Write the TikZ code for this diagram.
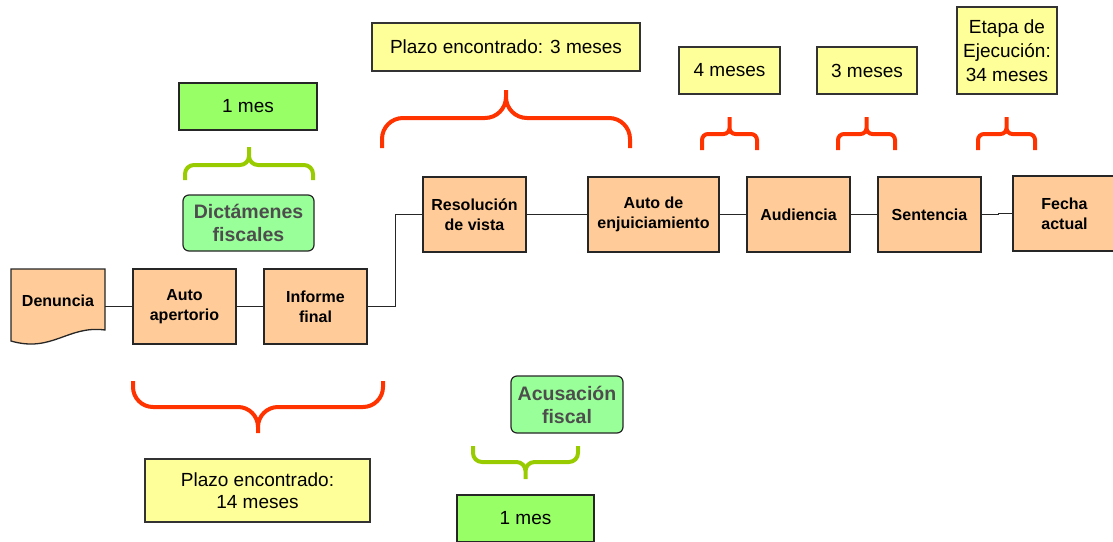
\documentclass[tikz,border=0pt]{standalone}
\usepackage{fontspec}
\setmainfont{Liberation Sans}
\definecolor{paso}{HTML}{FFCC99}
\definecolor{plazo}{HTML}{FFFF99}
\definecolor{mes}{HTML}{99FF66}
\definecolor{fiscal}{HTML}{99FF99}
\definecolor{llaveroja}{HTML}{FF3300}
\definecolor{llaveverde}{HTML}{99CC00}
\definecolor{textogris}{HTML}{4D4D4D}
\begin{document}
\begin{tikzpicture}[x=1pt,y=-1pt,
  pasobox/.style={draw=black!85,line width=1.3pt,fill=paso,minimum width=103pt,minimum height=75pt,inner sep=0pt,align=center,font=\fontsize{16}{20}\selectfont\bfseries},
  plazobox/.style={draw=black!80,line width=1.2pt,fill=plazo,inner sep=0pt,align=center,font=\fontsize{19}{23}\selectfont},
  mesbox/.style={draw=black!85,line width=1.2pt,fill=mes,minimum width=138pt,minimum height=47pt,inner sep=0pt,font=\fontsize{19}{23}\selectfont},
  fiscalbox/.style={draw=black!85,line width=1.2pt,fill=fiscal,rounded corners=6pt,inner sep=0pt,align=center,text=textogris,font=\fontsize{19.5}{23}\selectfont\bfseries},
  linea/.style={line width=1.3pt,black!85},
  llave/.style={line width=4pt,rounded corners=#1}]
\useasboundingbox (0,0) rectangle (1113,541);
\draw[line width=1.3pt,draw=black!85,fill=paso] (11,269) -- (105,269) -- (105,330) .. controls (68,325) and (52,353) .. (11,341) -- cycle;
\node[minimum width=94pt,inner sep=0pt,font=\fontsize{16}{20}\selectfont\bfseries] (den) at (58,301) {Denuncia};
\node[pasobox] (aut) at (184.5,306.5) {Auto\\apertorio};
\node[pasobox] (inf) at (315.5,306.5) {Informe\\final};
\node[pasobox] (res) at (474.5,214.5) {Resolución\\de vista};
\node[pasobox,minimum width=131pt] (enj) at (653.5,214.5) {Auto de\\enjuiciamiento};
\node[pasobox] (aud) at (798.5,214.5) {Audiencia};
\node[pasobox] (sen) at (929.5,214.5) {Sentencia};
\node[pasobox] (fec) at (1064.5,213.5) {Fecha\\actual};
\draw[linea] (den.east |- aut) -- (aut);
\draw[linea] (aut) -- (inf);
\draw[linea] (inf.east) -- ++(28,0) |- (res.west);
\draw[linea] (res) -- (enj);
\draw[linea] (enj) -- (aud);
\draw[linea] (aud) -- (sen);
\draw[linea] (sen.east) -- ++(17,0) |- (fec.west);
\node[plazobox,minimum width=268pt,minimum height=48pt] (p3) at (506,47) {Plazo encontrado: 3 meses};
\node[plazobox,minimum width=101pt,minimum height=47pt] (m4) at (729.5,70.5) {4 meses};
\node[plazobox,minimum width=100pt,minimum height=47pt] (m3) at (867,70.5) {3 meses};
\node[plazobox,minimum width=100pt,minimum height=87pt,font=\fontsize{19}{24}\selectfont] (eje) at (1007,50.5) {Etapa de\\Ejecución:\\34 meses};
\node[plazobox,minimum width=225pt,minimum height=63pt,font=\fontsize{19}{22}\selectfont] (p14) at (257.5,490.5) {Plazo encontrado:\\14 meses};
\node[mesbox] (mesa) at (248,106.5) {1 mes};
\node[mesbox,minimum width=137pt] (mesb) at (525.5,518.5) {1 mes};
\node[fiscalbox,minimum width=131pt,minimum height=56pt] (dic) at (248.5,223) {Dictámenes\\fiscales};
\node[fiscalbox,minimum width=112pt,minimum height=57pt] (acu) at (567,404.5) {Acusación\\fiscal};
\draw[llave=21pt,llaveroja] (382,148) |- (506,118) -- (506,90) (630,148) |- (506,118) -- (506,90);
\draw[llave=6pt,llaveroja] (702,150) |- (729.5,134) -- (729.5,117) (757,150) |- (729.5,134) -- (729.5,117);
\draw[llave=6pt,llaveroja] (838,150) |- (866.5,134) -- (866.5,117) (895,150) |- (866.5,134) -- (866.5,117);
\draw[llave=6pt,llaveroja] (978,150) |- (1006.5,134) -- (1006.5,117) (1035,150) |- (1006.5,134) -- (1006.5,117);
\draw[llave=20pt,llaveroja] (133,381) |- (258,407) -- (258,433) (383,381) |- (258,407) -- (258,433);
\draw[llave=9pt,llaveverde] (185,180) |- (249,165) -- (249,147) (313,180) |- (249,165) -- (249,147);
\draw[llave=9pt,llaveverde] (473,446) |- (525.5,462) -- (525.5,479) (578,446) |- (525.5,462) -- (525.5,479);
\end{tikzpicture}
\end{document}
